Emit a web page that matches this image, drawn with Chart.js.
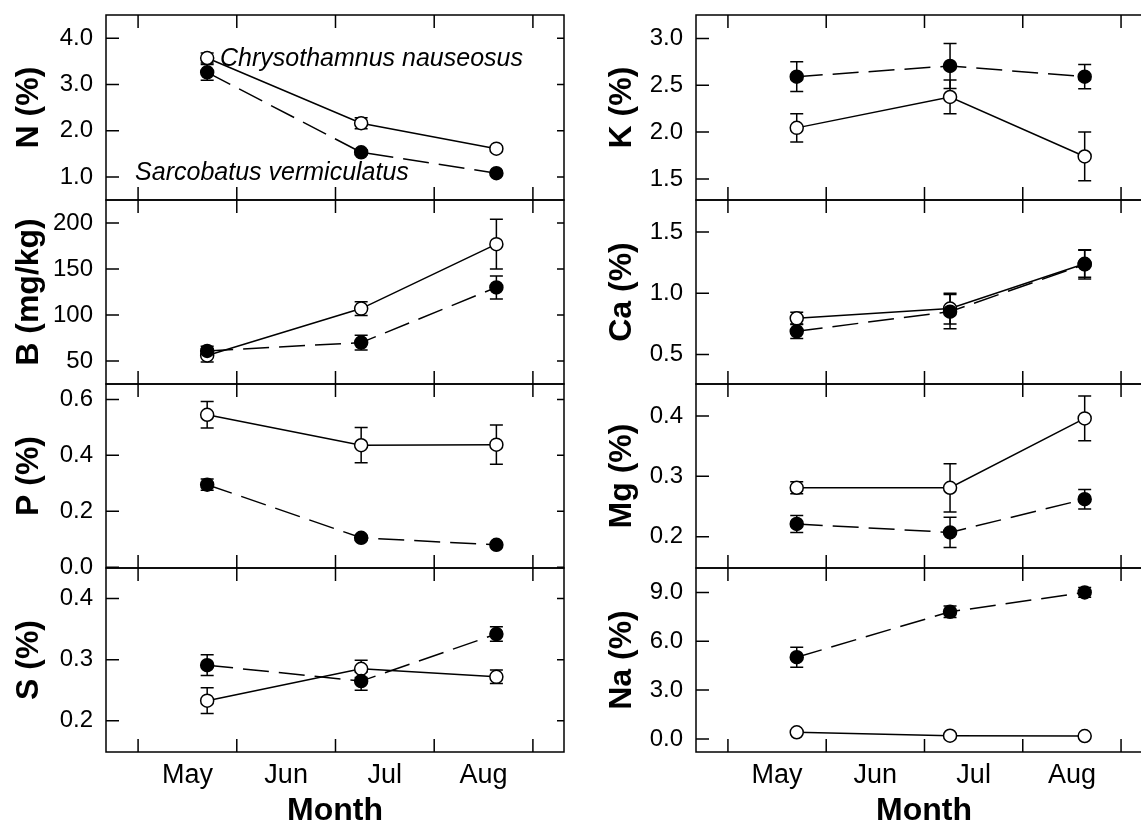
<!DOCTYPE html>
<html>
<head>
<meta charset="utf-8">
<script src="https://cdn.jsdelivr.net/npm/chart.js@4.4.1/dist/chart.umd.min.js"></script>
<style>
  html, body { margin: 0; padding: 0; background: #fff; overflow: hidden; width: 1141px; height: 824px; }
  canvas { position: absolute; }
</style>
</head>
<body>
<script>
// Sampling dates (month number, 5 = 1 May) and month axis
const sampleMonths = [5.70, 7.26, 8.63];
const monthBounds = [5, 6, 7, 8, 9];
const monthCenters = [5.5, 6.5, 7.5, 8.5];
const monthLabels = ['May', 'Jun', 'Jul', 'Aug'];

// Chrysothamnus nauseosus (open) / Sarcobatus vermiculatus (filled), mean and SE
const nChry = [3.57, 2.16, 1.61],     nChryErr = [0.11, 0.12, 0.05];
const nSarc = [3.26, 1.53, 1.08],     nSarcErr = [0.17, 0.05, 0.04];
const bChry = [56, 107, 177],         bChryErr = [7, 7.5, 27];
const bSarc = [61, 70, 130],          bSarcErr = [5, 8, 12.5];
const pChry = [0.545, 0.436, 0.438],  pChryErr = [0.047, 0.063, 0.07];
const pSarc = [0.295, 0.105, 0.08],   pSarcErr = [0.02, 0.008, 0.007];
const sChry = [0.233, 0.285, 0.272],  sChryErr = [0.021, 0.014, 0.011];
const sSarc = [0.291, 0.265, 0.342],  sSarcErr = [0.017, 0.015, 0.012];
const kChry = [2.045, 2.375, 1.74],   kChryErr = [0.15, 0.18, 0.26];
const kSarc = [2.592, 2.706, 2.592],  kSarcErr = [0.16, 0.24, 0.13];
const caChry = [0.795, 0.875, 1.24],  caChryErr = [0.05, 0.125, 0.11];
const caSarc = [0.69, 0.85, 1.235],   caSarcErr = [0.06, 0.14, 0.12];
const mgChry = [0.281, 0.281, 0.396], mgChryErr = [0.01, 0.04, 0.037];
const mgSarc = [0.221, 0.207, 0.262], mgSarcErr = [0.014, 0.025, 0.016];
const naChry = [0.41, 0.2, 0.18],     naChryErr = [0.05, 0.05, 0.05];
const naSarc = [5.02, 7.81, 9.0],     naSarcErr = [0.62, 0.35, 0.3];

// Y tick values per panel
const nTicks = [1, 2, 3, 4];
const bTicks = [50, 100, 150, 200];
const pTicks = [0, 0.2, 0.4, 0.6];
const sTicks = [0.2, 0.3, 0.4];
const kTicks = [1.5, 2, 2.5, 3];
const caTicks = [0.5, 1, 1.5];
const mgTicks = [0.2, 0.3, 0.4];
const naTicks = [0, 3, 6, 9];

Chart.defaults.font.family = '"Liberation Sans", Arial, sans-serif';
Chart.defaults.color = '#000';
Chart.defaults.animation = false;

// Error bars under the markers, frame + inward ticks + notes on top
const panelFrame = {
  id: 'panelFrame',
  beforeDatasetsDraw(chart) {
    const { ctx, scales: { y } } = chart;
    ctx.save();
    ctx.strokeStyle = '#000';
    ctx.lineWidth = 1.5;
    chart.data.datasets.forEach((ds, di) => {
      const meta = chart.getDatasetMeta(di);
      ds.errors.forEach((e, i) => {
        const px = meta.data[i].x;
        const v = ds.data[i].y;
        const t = y.getPixelForValue(v + e), b = y.getPixelForValue(v - e);
        ctx.beginPath();
        ctx.moveTo(px, t); ctx.lineTo(px, b);
        ctx.moveTo(px - 6.5, t); ctx.lineTo(px + 6.5, t);
        ctx.moveTo(px - 6.5, b); ctx.lineTo(px + 6.5, b);
        ctx.stroke();
      });
    });
    ctx.restore();
  },
  afterDraw(chart, args, opts) {
    const { ctx, chartArea: a, scales: { x, y } } = chart;
    ctx.save();
    ctx.strokeStyle = '#000';
    ctx.lineWidth = 1.5;
    ctx.strokeRect(a.left, a.top, a.right - a.left, a.bottom - a.top);
    ctx.beginPath();
    monthBounds.forEach(m => {
      const px = x.getPixelForValue(m);
      ctx.moveTo(px, a.top); ctx.lineTo(px, a.top + 13);
      ctx.moveTo(px, a.bottom); ctx.lineTo(px, a.bottom - 13);
    });
    opts.ticks.forEach(v => {
      const py = y.getPixelForValue(v);
      ctx.moveTo(a.left, py); ctx.lineTo(a.left + 13, py);
      ctx.moveTo(a.right, py); ctx.lineTo(a.right - 7, py);
    });
    ctx.stroke();
    (opts.notes || []).forEach(n => {
      ctx.font = 'italic 25px "Liberation Sans", Arial, sans-serif';
      ctx.fillStyle = '#000';
      ctx.textBaseline = 'middle';
      ctx.textAlign = 'left';
      ctx.fillText(n.text, x.getPixelForValue(n.x), y.getPixelForValue(n.y));
    });
    ctx.restore();
  }
};

const toPoints = vals => vals.map((v, i) => ({ x: sampleMonths[i], y: v }));

// Each panel canvas overlaps its neighbours by PAD so that edge labels are not cut
const PAD = 16;

function makePanel(p) {
  const bottom = p.row === 3;
  const top = rowTops[p.row], height = rowTops[p.row + 1] - top;
  const canvas = document.createElement('canvas');
  const left = p.col === 0 ? 0 : 590;
  canvas.width = p.col === 0 ? 566 : 564;
  canvas.height = height + PAD + (bottom ? 78 : PAD);
  canvas.style.left = left + 'px';
  canvas.style.top = (top - PAD) + 'px';
  document.body.appendChild(canvas);

  new Chart(canvas, {
    type: 'line',
    data: {
      datasets: [
        {
          data: toPoints(p.sarc), errors: p.sarcErr,
          borderColor: '#000', borderWidth: 1.5, borderDash: [26, 10],
          pointRadius: 6.5, pointBorderWidth: 1.5,
          pointBackgroundColor: '#000', pointBorderColor: '#000', tension: 0
        },
        {
          data: toPoints(p.chry), errors: p.chryErr,
          borderColor: '#000', borderWidth: 1.5,
          pointRadius: 6.5, pointBorderWidth: 1.5,
          pointBackgroundColor: '#fff', pointBorderColor: '#000', tension: 0
        }
      ]
    },
    options: {
      responsive: false,
      layout: { autoPadding: false, padding: { top: PAD, bottom: bottom ? 0 : PAD, left: 0, right: 2 } },
      plugins: {
        legend: { display: false },
        tooltip: { enabled: false },
        panelFrame: { ticks: p.ticks, notes: p.notes }
      },
      scales: {
        x: {
          type: 'linear', min: 4.675, max: 9.315,
          display: bottom,
          grid: { display: false, drawTicks: false },
          border: { display: false },
          afterBuildTicks: s => { s.ticks = monthCenters.map(v => ({ value: v })); },
          afterFit: s => {
            s.height = bottom ? 78 : 0;
            s.paddingLeft = 0; s.paddingRight = 0;
          },
          ticks: {
            autoSkip: false, maxRotation: 0,
            padding: 7, font: { size: 27 },
            callback: (v) => monthLabels[monthCenters.indexOf(v)]
          },
          title: {
            display: true, text: 'Month', padding: 0,
            font: { size: 32, weight: 'bold' }
          }
        },
        y: {
          type: 'linear', min: p.min, max: p.max, bounds: 'data',
          grid: { display: false, drawTicks: false },
          border: { display: false },
          afterBuildTicks: s => { s.ticks = p.ticks.map(v => ({ value: v })); },
          afterFit: s => {
            s.width = 106;
            s.paddingTop = 0; s.paddingBottom = 0;
          },
          ticks: {
            autoSkip: false,
            padding: 13, font: { size: 24 },
            callback: v => v.toFixed(p.dec)
          },
          title: {
            display: true, text: p.title,
            padding: { top: p.col === 0 ? 10 : 13, bottom: 0 },
            font: { size: 32, weight: 'bold' }
          }
        }
      }
    },
    plugins: [panelFrame]
  });
}

const rowTops = [15, 200, 384, 568, 752];

const panels = [
  { col: 0, row: 0, title: 'N (%)', chry: nChry, chryErr: nChryErr, sarc: nSarc, sarcErr: nSarcErr,
    ticks: nTicks, min: 0.5, max: 4.5, dec: 1,
    notes: [
      { text: 'Chrysothamnus nauseosus', x: 5.83, y: 3.55 },
      { text: 'Sarcobatus vermiculatus', x: 4.97, y: 1.08 }
    ] },
  { col: 0, row: 1, title: 'B (mg/kg)', chry: bChry, chryErr: bChryErr, sarc: bSarc, sarcErr: bSarcErr,
    ticks: bTicks, min: 25, max: 225, dec: 0 },
  { col: 0, row: 2, title: 'P (%)', chry: pChry, chryErr: pChryErr, sarc: pSarc, sarcErr: pSarcErr,
    ticks: pTicks, min: -0.003, max: 0.655, dec: 1 },
  { col: 0, row: 3, title: 'S (%)', chry: sChry, chryErr: sChryErr, sarc: sSarc, sarcErr: sSarcErr,
    ticks: sTicks, min: 0.149, max: 0.45, dec: 1 },
  { col: 1, row: 0, title: 'K (%)', chry: kChry, chryErr: kChryErr, sarc: kSarc, sarcErr: kSarcErr,
    ticks: kTicks, min: 1.275, max: 3.25, dec: 1 },
  { col: 1, row: 1, title: 'Ca (%)', chry: caChry, chryErr: caChryErr, sarc: caSarc, sarcErr: caSarcErr,
    ticks: caTicks, min: 0.26, max: 1.76, dec: 1 },
  { col: 1, row: 2, title: 'Mg (%)', chry: mgChry, chryErr: mgChryErr, sarc: mgSarc, sarcErr: mgSarcErr,
    ticks: mgTicks, min: 0.148, max: 0.453, dec: 1 },
  { col: 1, row: 3, title: 'Na (%)', chry: naChry, chryErr: naChryErr, sarc: naSarc, sarcErr: naSarcErr,
    ticks: naTicks, min: -0.8, max: 10.5, dec: 1 }
];

panels.forEach(makePanel);
</script>
</body>
</html>
